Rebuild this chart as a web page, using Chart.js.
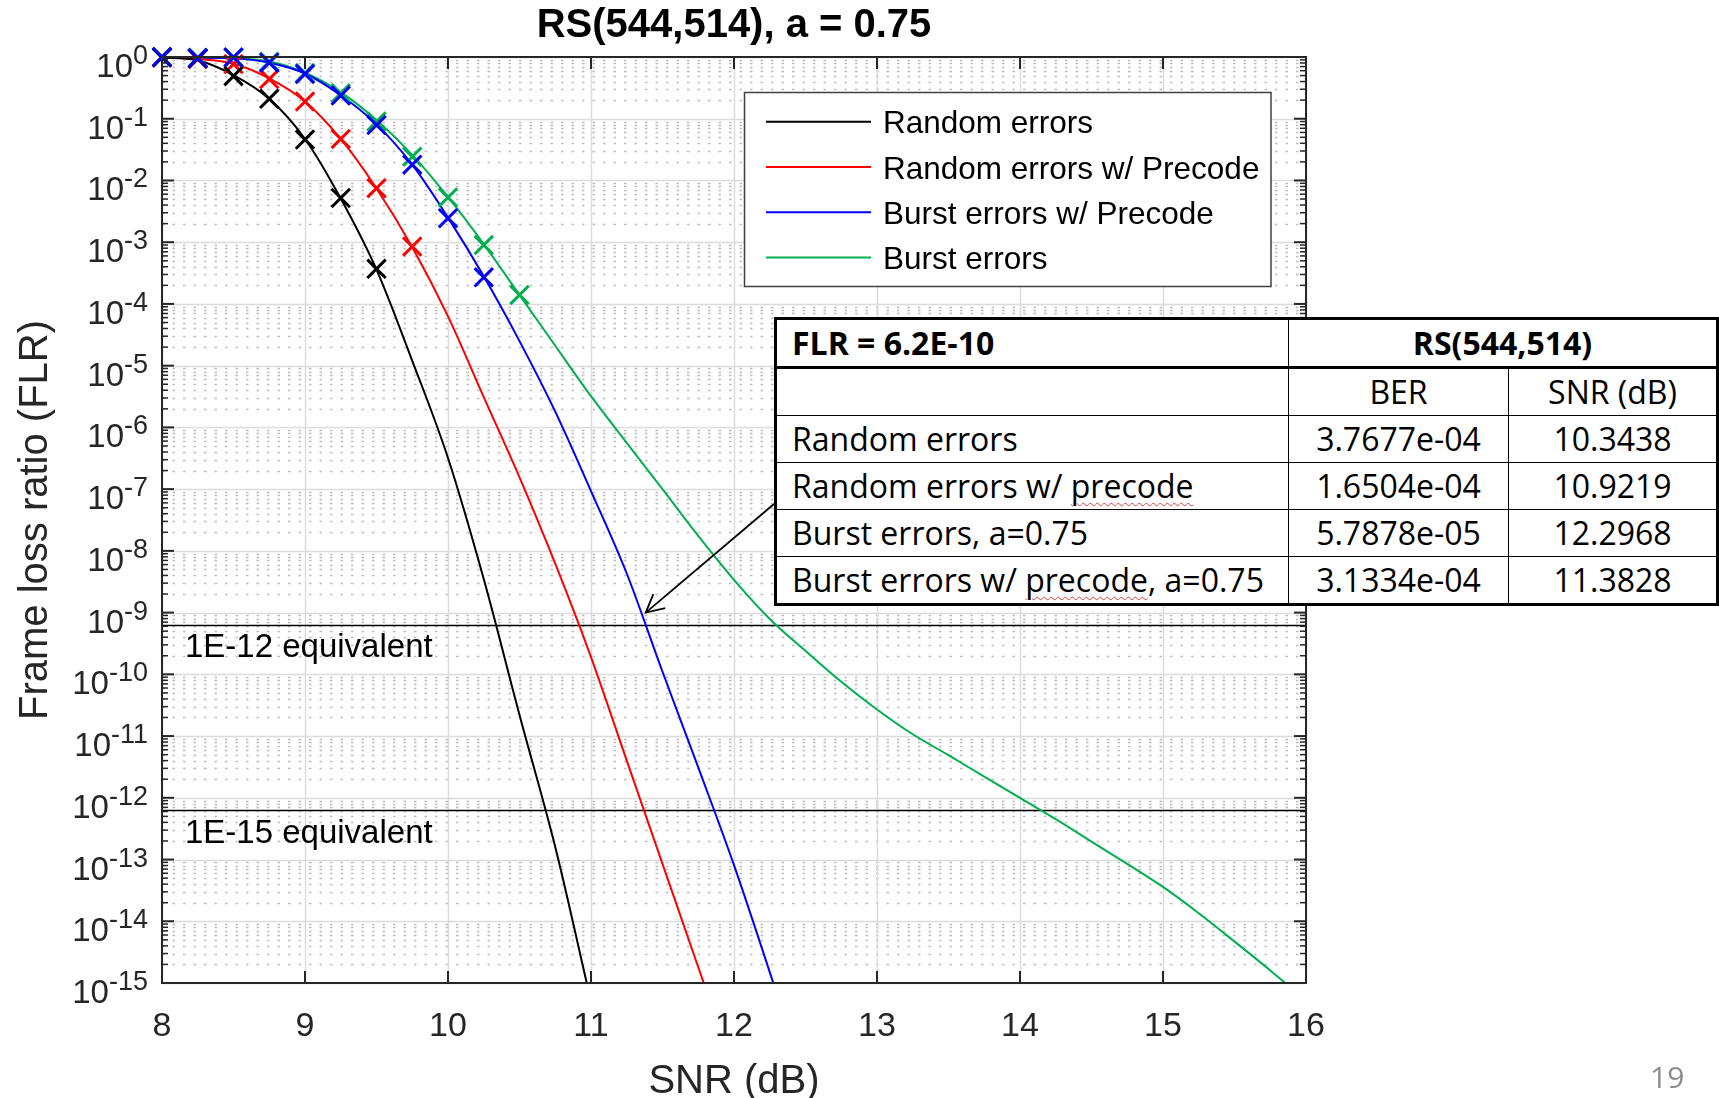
<!DOCTYPE html>
<html>
<head>
<meta charset="utf-8">
<title>RS(544,514), a = 0.75</title>
<script src="https://cdn.jsdelivr.net/npm/chart.js@4.4.0/dist/chart.umd.min.js"></script>
<style>
  html, body { margin: 0; padding: 0; background: #fff; }
  #wrap { position: relative; width: 1719px; height: 1098px; overflow: hidden; background: #fff; }
  #flr-chart { position: absolute; left: 0; top: 0; }
  #flr-table {
    position: absolute; left: 774px; top: 317px; width: 942px;
    border-collapse: collapse; table-layout: fixed; background: #fff;
    font-family: "Open Sans", "Noto Sans", sans-serif; font-size: 32px; color: #000;
    border: 3px solid #000;
  }
  #flr-table td {
    height: 46px; padding: 0 0 0 15px; border: 1.5px solid #000;
    white-space: nowrap; line-height: 1; vertical-align: middle;
  }
  #flr-table td.c { text-align: center; padding: 0; }
  #flr-table tr.head td { font-weight: bold; border-bottom: 3px solid #000; }
  #flr-table .spell { text-decoration: underline wavy #e04040; text-decoration-thickness: 1px; text-underline-offset: 4px; }
  #page-no { position: absolute; left: 1650px; top: 1056px; font-family: "Open Sans", sans-serif; font-size: 30px; color: #8c8c8c; }
</style>
</head>
<body>
<div id="wrap">
  <canvas id="flr-chart" width="1719" height="1098"></canvas>
  <table id="flr-table">
    <colgroup><col style="width:513px"><col style="width:220px"><col style="width:209px"></colgroup>
    <tbody id="flr-body"></tbody>
  </table>
  <div id="page-no">19</div>
</div>
<script>
// axis ticks
var xTicks = [8, 9, 10, 11, 12, 13, 14, 15, 16];
var yTickExps = [0, -1, -2, -3, -4, -5, -6, -7, -8, -9, -10, -11, -12, -13, -14, -15];

// analytic curves (SNR dB -> frame loss ratio)
var snrRandom = [8, 8.25, 8.5, 8.75, 9, 9.25, 9.5, 9.75, 10, 10.25, 10.5, 10.75, 11];
var flrRandom = [0.98, 0.88, 0.51, 0.21, 4.7e-2, 5.1e-3, 3.6e-4, 1.2e-5, 3.2e-7, 3.5e-9, 2.2e-11, 1.6e-13, 5.0e-16];

var snrRandomPre = [8, 8.25, 8.5, 8.75, 9, 9.25, 9.5, 9.75, 10, 10.25, 10.5, 10.75, 11, 11.25, 11.5, 11.75, 12];
var flrRandomPre = [0.98, 0.93, 0.78, 0.45, 0.19, 4.7e-2, 7.4e-3, 8.3e-4, 6.3e-5, 3.1e-6, 1.55e-7, 6.2e-9, 1.9e-10, 4.0e-12, 8.5e-14, 1.8e-15, 4.0e-17];

var snrBurstPre = [8, 8.25, 8.5, 8.75, 9, 9.25, 9.5, 9.75, 10, 10.25, 10.5, 10.75, 11, 11.25, 11.5, 11.75, 12, 12.25, 12.5];
var flrBurstPre = [1.0, 0.98, 0.95, 0.81, 0.54, 0.24, 8.1e-2, 1.8e-2, 2.5e-3, 2.8e-4, 2.5e-5, 1.8e-6, 9.3e-8, 4.3e-9, 1.1e-10, 3.1e-12, 8.1e-14, 1.5e-15, 2.5e-17];

var snrBurst = [8, 8.25, 8.5, 8.75, 9, 9.25, 9.5, 9.75, 10, 10.25, 10.5, 10.75, 11, 11.25, 11.5, 11.75, 12, 12.25, 12.5, 12.75, 13, 13.25, 13.5, 13.75, 14, 14.25, 14.5, 14.75, 15, 15.25, 15.5, 15.75, 16];
var flrBurst = [0.99, 0.98, 0.955, 0.85, 0.56, 0.27, 9.5e-2, 2.6e-2, 5.4e-3, 9.3e-4, 1.4e-4, 2.1e-5, 3.2e-6, 5.6e-7, 1.0e-7, 1.75e-8, 3.4e-9, 7.9e-10, 2.4e-10, 7.6e-11, 2.7e-11, 1.07e-11, 4.9e-12, 2.2e-12, 1.0e-12, 4.5e-13, 1.95e-13, 8.5e-14, 3.6e-14, 1.35e-14, 4.7e-15, 1.6e-15, 5.2e-16];

// simulation points (x markers)
var simSnrRandom = [8, 8.25, 8.5, 8.75, 9, 9.25, 9.5];
var simFlrRandom = [0.98, 0.95, 0.49, 0.21, 4.6e-2, 5.2e-3, 3.7e-4];
var simSnrRandomPre = [8, 8.25, 8.5, 8.75, 9, 9.25, 9.5, 9.75];
var simFlrRandomPre = [0.99, 0.93, 0.77, 0.44, 0.19, 4.7e-2, 7.5e-3, 8.5e-4];
var simSnrBurstPre = [8, 8.25, 8.5, 8.75, 9, 9.25, 9.5, 9.75, 10, 10.25];
var simFlrBurstPre = [1.0, 0.96, 0.99, 0.81, 0.53, 0.237, 7.9e-2, 1.8e-2, 2.45e-3, 2.7e-4];
var simSnrBurst = [8, 8.25, 8.5, 8.75, 9, 9.25, 9.5, 9.75, 10, 10.25, 10.5];
var simFlrBurst = [1.0, 0.97, 0.97, 0.84, 0.55, 0.258, 9.0e-2, 2.43e-2, 5.3e-3, 9.0e-4, 1.4e-4];

// reference levels
var refLevels = [6.2e-10, 6.2e-13];
var refLabels = ['1E-12 equivalent', '1E-15 equivalent'];

// legend
var legendLabels = ['Random errors', 'Random errors w/ Precode', 'Burst errors w/ Precode', 'Burst errors'];
var seriesColors = ['#000000', '#ff0000', '#0000ff', '#00b050'];

// table
var tableLabels = ['Random errors', 'Random errors w/ precode', 'Burst errors, a=0.75', 'Burst errors w/ precode, a=0.75'];
var tableBer = ['3.7677e-04', '1.6504e-04', '5.7878e-05', '3.1334e-04'];
var tableSnr = ['10.3438', '10.9219', '12.2968', '11.3828'];

// arrow annotation: points at the burst w/ precode curve
var arrowTip = { x: 11.3828, y: 1.0e-9 };
var arrowTail = { px: 774, py: 504 };

var FONT = '"Liberation Sans", Arial, Helvetica, sans-serif';
var AXIS_COLOR = '#262626';

function pairs(xs, ys) {
  return xs.map(function(v, i) { return { x: v, y: ys[i] }; });
}

function curve(label, color, xs, ys) {
  return {
    label: label,
    data: pairs(xs, ys),
    borderColor: color,
    backgroundColor: color,
    borderWidth: 2,
    pointRadius: 0,
    fill: false,
    cubicInterpolationMode: 'monotone',
    order: 2
  };
}

function markers(color, xs, ys) {
  return {
    data: pairs(xs, ys),
    showLine: false,
    pointStyle: 'crossRot',
    pointRadius: 13,
    pointBorderWidth: 3,
    pointBorderColor: color,
    pointBackgroundColor: color,
    borderColor: color,
    clip: false,
    order: 1
  };
}

function refLine(level) {
  return {
    data: [{ x: 8, y: level }, { x: 16, y: level }],
    borderColor: '#000000',
    borderWidth: 1.5,
    pointRadius: 0,
    order: 3
  };
}

// build table rows
(function buildTable() {
  var body = document.getElementById('flr-body');
  var html = '<tr class="head"><td>FLR = 6.2E-10</td><td class="c" colspan="2">RS(544,514)</td></tr>';
  html += '<tr><td></td><td class="c">BER</td><td class="c">SNR (dB)</td></tr>';
  tableLabels.forEach(function(label, i) {
    var txt = label.replace('precode', '<span class="spell">precode</span>');
    html += '<tr><td>' + txt + '</td><td class="c">' + tableBer[i] + '</td><td class="c">' + tableSnr[i] + '</td></tr>';
  });
  body.innerHTML = html;
})();

function minorValues() {
  var out = [];
  yTickExps.forEach(function(e) {
    if (e === 0) return;
    for (var m = 2; m <= 9; m++) out.push(Number((m * Math.pow(10, e)).toPrecision(3)));
  });
  return out;
}

function hLine(ctx, x1, x2, y) {
  ctx.beginPath(); ctx.moveTo(x1, y); ctx.lineTo(x2, y); ctx.stroke();
}
function vLine(ctx, x, y1, y2) {
  ctx.beginPath(); ctx.moveTo(x, y1); ctx.lineTo(x, y2); ctx.stroke();
}

function drawPowerLabel(ctx, exp, right, ty) {
  var sup = exp === 0 ? '0' : '-' + (-exp);
  ctx.textAlign = 'left';
  ctx.textBaseline = 'alphabetic';
  ctx.font = '27px ' + FONT;
  var ws = ctx.measureText(sup).width;
  ctx.fillText(sup, right - ws, ty + 7);
  ctx.font = '33px ' + FONT;
  var wb = ctx.measureText('10').width;
  ctx.fillText('10', right - ws - wb, ty + 20);
}

var decorPlugin = {
  id: 'decor',
  beforeDatasetsDraw: function(chart) {
    var ctx = chart.ctx, a = chart.chartArea, x = chart.scales.x, y = chart.scales.y;
    ctx.save();
    ctx.fillStyle = '#fff';
    ctx.fillRect(a.left, a.top, a.right - a.left, a.bottom - a.top);

    // minor grid (dotted)
    ctx.strokeStyle = '#bdbdbd';
    ctx.lineWidth = 1.3;
    ctx.setLineDash([2.5, 8]);
    minorValues().forEach(function(v) {
      var py = Math.round(y.getPixelForValue(v)) + 0.5;
      hLine(ctx, a.left, a.right, py);
    });

    // major grid
    ctx.setLineDash([]);
    ctx.strokeStyle = '#dcdcdc';
    ctx.lineWidth = 1.5;
    xTicks.forEach(function(t) {
      var px = Math.round(x.getPixelForValue(t)) + 0.5;
      vLine(ctx, px, a.top, a.bottom);
    });
    yTickExps.forEach(function(e) {
      var py = Math.round(y.getPixelForValue(Math.pow(10, e))) + 0.5;
      hLine(ctx, a.left, a.right, py);
    });
    ctx.restore();
  },
  afterDatasetsDraw: function(chart) {
    var ctx = chart.ctx, a = chart.chartArea, x = chart.scales.x, y = chart.scales.y;
    ctx.save();

    // reference level labels
    ctx.fillStyle = '#000';
    ctx.font = '33px ' + FONT;
    ctx.textAlign = 'left';
    ctx.textBaseline = 'alphabetic';
    refLevels.forEach(function(v, i) {
      ctx.fillText(refLabels[i], a.left + 23, y.getPixelForValue(v) + 32);
    });

    // axes box
    ctx.strokeStyle = AXIS_COLOR;
    ctx.lineWidth = 2;
    ctx.strokeRect(a.left, a.top, a.right - a.left, a.bottom - a.top);

    // x ticks (bottom and top)
    xTicks.forEach(function(t) {
      var px = x.getPixelForValue(t);
      vLine(ctx, px, a.bottom, a.bottom - 12);
      vLine(ctx, px, a.top, a.top + 12);
    });
    // y ticks (left and right)
    yTickExps.forEach(function(e) {
      var py = y.getPixelForValue(Math.pow(10, e));
      hLine(ctx, a.left, a.left + 12, py);
      hLine(ctx, a.right, a.right - 12, py);
    });
    ctx.lineWidth = 1.5;
    minorValues().forEach(function(v) {
      var py = y.getPixelForValue(v);
      hLine(ctx, a.left, a.left + 6, py);
      hLine(ctx, a.right, a.right - 6, py);
    });

    // tick labels
    ctx.fillStyle = AXIS_COLOR;
    ctx.font = '34px ' + FONT;
    ctx.textAlign = 'center';
    ctx.textBaseline = 'alphabetic';
    xTicks.forEach(function(t) {
      ctx.fillText(String(t), x.getPixelForValue(t), a.bottom + 53);
    });
    yTickExps.forEach(function(e) {
      drawPowerLabel(ctx, e, a.left - 14, y.getPixelForValue(Math.pow(10, e)));
    });

    // axis titles
    var cx = (a.left + a.right) / 2;
    ctx.textAlign = 'center';
    ctx.font = '40px ' + FONT;
    ctx.fillText('SNR (dB)', cx, 1093);
    ctx.save();
    ctx.translate(47, (a.top + a.bottom) / 2);
    ctx.rotate(-Math.PI / 2);
    ctx.fillText('Frame loss ratio (FLR)', 0, 0);
    ctx.restore();
    ctx.fillStyle = '#000';
    ctx.font = 'bold 40px ' + FONT;
    ctx.fillText('RS(544,514), a = 0.75', cx, 37);

    // legend
    var lx = 744.5, ly = 92.5, lw = 526.5, lh = 194;
    ctx.fillStyle = '#fff';
    ctx.fillRect(lx, ly, lw, lh);
    ctx.strokeStyle = '#404040';
    ctx.lineWidth = 1.5;
    ctx.strokeRect(lx, ly, lw, lh);
    ctx.font = '31.5px ' + FONT;
    ctx.textAlign = 'left';
    legendLabels.forEach(function(label, i) {
      var rowY = 121.7 + i * 45.3;
      ctx.strokeStyle = seriesColors[i];
      ctx.lineWidth = 2;
      hLine(ctx, 766, 871, rowY);
      ctx.fillStyle = '#000';
      ctx.fillText(label, 883, rowY + 11.5);
    });

    // arrow from table to curve
    var tx = x.getPixelForValue(arrowTip.x), ty = y.getPixelForValue(arrowTip.y);
    ctx.strokeStyle = '#000';
    ctx.lineWidth = 1.8;
    ctx.beginPath();
    ctx.moveTo(arrowTail.px, arrowTail.py);
    ctx.lineTo(tx, ty);
    ctx.stroke();
    var ang = Math.atan2(arrowTail.py - ty, arrowTail.px - tx);
    var headLen = 20, spread = 0.48;
    ctx.beginPath();
    ctx.moveTo(tx + headLen * Math.cos(ang - spread), ty + headLen * Math.sin(ang - spread));
    ctx.lineTo(tx, ty);
    ctx.lineTo(tx + headLen * Math.cos(ang + spread), ty + headLen * Math.sin(ang + spread));
    ctx.stroke();

    ctx.restore();
  }
};

var datasets = [
  markers(seriesColors[2], simSnrBurstPre, simFlrBurstPre),
  markers(seriesColors[0], simSnrRandom, simFlrRandom),
  markers(seriesColors[1], simSnrRandomPre, simFlrRandomPre),
  markers(seriesColors[3], simSnrBurst, simFlrBurst),
  curve(legendLabels[0], seriesColors[0], snrRandom, flrRandom),
  curve(legendLabels[1], seriesColors[1], snrRandomPre, flrRandomPre),
  curve(legendLabels[2], seriesColors[2], snrBurstPre, flrBurstPre),
  curve(legendLabels[3], seriesColors[3], snrBurst, flrBurst)
].concat(refLevels.map(refLine));

new Chart(document.getElementById('flr-chart'), {
  type: 'line',
  data: { datasets: datasets },
  options: {
    responsive: false,
    animation: false,
    events: [],
    layout: { padding: { left: 162, top: 57, right: 413, bottom: 115 } },
    scales: {
      x: { type: 'linear', min: 8, max: 16, display: false },
      y: { type: 'logarithmic', min: 1e-15, max: 1, display: false }
    },
    plugins: {
      legend: { display: false },
      tooltip: { enabled: false },
      title: { display: false }
    }
  },
  plugins: [decorPlugin]
});
</script>
</body>
</html>
